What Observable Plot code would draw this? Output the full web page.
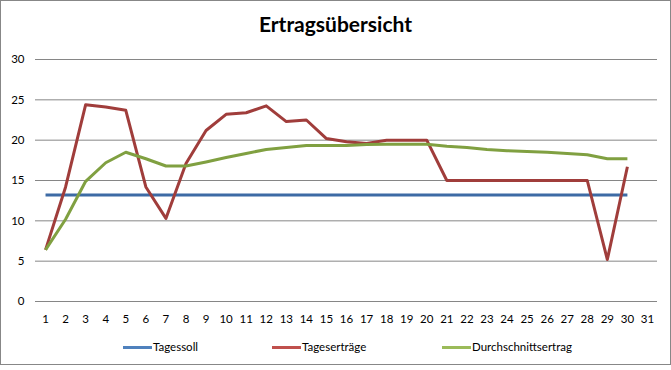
<!DOCTYPE html>
<html>
<head>
<meta charset="utf-8">
<script src="https://cdn.jsdelivr.net/npm/d3@7"></script>
<script src="https://cdn.jsdelivr.net/npm/@observablehq/plot@0.6"></script>
<style>
  html, body { margin: 0; padding: 0; background: #fff; }
  #chart { position: relative; width: 671px; height: 370px; overflow: hidden; font-family: Lato, "Open Sans", sans-serif; }
  #frame { position: absolute; left: 0; top: 0; width: 669px; height: 363px; border: 1px solid #878787; box-sizing: content-box; pointer-events: none; }
  #title { position: absolute; left: 0; right: 0; top: 11px; text-align: center; font-weight: bold; font-size: 21px; color: #000; }
  #plot { position: absolute; left: 0; top: 0; }
  .leg { position: absolute; top: 340px; font-size: 11.5px; color: #000; white-space: nowrap; }
  .leg span.sw { display: inline-block; width: 29px; height: 3px; vertical-align: middle; margin-right: 1px; position: relative; top: -1px; }
</style>
</head>
<body>
<div id="chart">
  <div id="plot"></div>
  <div id="title">Ertragsübersicht</div>
  <div id="legend"></div>
  <div id="frame"></div>
</div>
<script>
const days = d3.range(1, 31);
const xTicks = d3.range(1, 32);
const yTicks = [0, 5, 10, 15, 20, 25, 30];
const seriesNames = ["Tagessoll", "Tageserträge", "Durchschnittsertrag"];
const lineColors = ["#3d6ba5", "#a03d3b", "#80a041"];
const legendColors = ["#4f81bd", "#c0504d", "#9bbb59"];
const tagessoll = [13.2,13.2,13.2,13.2,13.2,13.2,13.2,13.2,13.2,13.2,13.2,13.2,13.2,13.2,13.2,13.2,13.2,13.2,13.2,13.2,13.2,13.2,13.2,13.2,13.2,13.2,13.2,13.2,13.2,13.2];
const tagesertraege = [6.4,14.2,24.4,24.1,23.7,14.2,10.3,17.1,21.2,23.2,23.4,24.25,22.3,22.5,20.2,19.8,19.6,20.0,20.0,20.0,15.0,15.0,15.0,15.0,15.0,15.0,15.0,15.0,5.2,16.7];
const durchschnitt = [6.4,10.2,14.9,17.2,18.5,17.7,16.8,16.8,17.3,17.85,18.35,18.85,19.1,19.35,19.35,19.35,19.45,19.5,19.5,19.5,19.25,19.1,18.85,18.7,18.6,18.5,18.35,18.2,17.7,17.7];

const seriesValues = [tagessoll, tagesertraege, durchschnitt];
const rows = [];
seriesNames.forEach((name, i) => days.forEach((d, j) => rows.push({series: name, day: d, value: seriesValues[i][j]})));

const plot = Plot.plot({
  width: 671,
  height: 370,
  marginLeft: 35,
  marginRight: 14,
  marginTop: 59,
  marginBottom: 69,
  style: { fontFamily: "Lato, 'Open Sans', sans-serif", fontSize: "11.5px", color: "#000", background: "transparent" },
  x: { domain: [0.5, 31.5], ticks: xTicks, tickFormat: d => String(d), tickSize: 0, tickPadding: 13, label: null },
  y: { domain: [0, 30], ticks: yTicks, tickSize: 0, tickPadding: 11, label: null },
  color: { domain: seriesNames, range: lineColors },
  marks: [
    Plot.gridY(yTicks, { stroke: "#868686", strokeOpacity: 1, strokeWidth: 1 }),
    Plot.axisX({ ticks: xTicks, tickSize: 0, tickPadding: 13, tickFormat: d => String(d), label: null }),
    Plot.axisY({ ticks: yTicks, tickSize: 0, tickPadding: 11, label: null }),
    Plot.line(rows, { x: "day", y: "value", z: "series", stroke: "series", strokeWidth: 3, strokeLinejoin: "round", strokeLinecap: "butt" })
  ]
});
document.getElementById("plot").appendChild(plot);

const legendPos = [123, 272, 442];
const legend = document.getElementById("legend");
seriesNames.forEach((name, i) => {
  const el = document.createElement("div");
  el.className = "leg";
  el.style.left = legendPos[i] + "px";
  el.innerHTML = `<span class="sw" style="background:${legendColors[i]}"></span>${name}`;
  legend.appendChild(el);
});
</script>
</body>
</html>
